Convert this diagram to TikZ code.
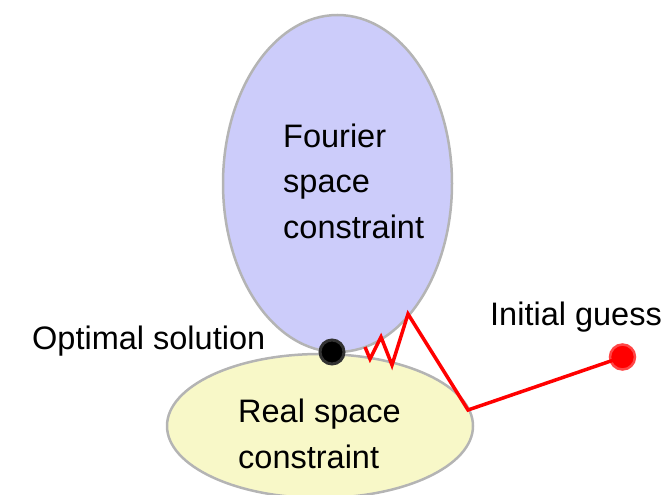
\documentclass[tikz,border=0pt]{standalone}
\usepackage{fontspec}
\setmainfont{Liberation Sans}
\usepackage{tikz}
\usetikzlibrary{shapes.geometric, positioning}

\definecolor{fourierblue}{RGB}{204,204,250}
\definecolor{realyellow}{RGB}{248,248,200}
\definecolor{rimgray}{RGB}{180,180,180}

\tikzset{
  region/.style={ellipse, draw=rimgray, line width=2.5pt, inner sep=0pt},
  label/.style={anchor=base west, inner sep=0pt, align=left,
    font=\fontsize{32.5}{45.5}\selectfont},
  path/.style={red, line width=3.5pt, line join=miter}
}

\begin{document}
\begin{tikzpicture}[x=1pt, y=-1pt]

\useasboundingbox (0,0) rectangle (661,495);

% Constraint sets
\node[region, fill=fourierblue, minimum width=229pt, minimum height=337pt]
  (fourier) at (337.5,183.5) {};
\node[region, fill=realyellow, minimum width=306pt, minimum height=144pt]
  (real) at (320,426) {};

% Set labels (base = last line)
\node[label] (fourierlbl) at (283,238) {Fourier\\space\\constraint};
\node[label] (reallbl) at (238,468) {Real space\\constraint};

% Iteration path
\node[circle, fill=red, draw={rgb,255:red,255;green,70;blue,70}, line width=2.5pt,
  minimum size=25pt, inner sep=0pt] (guess) at (622.5,357) {};
\coordinate (p1) at (468,410);
\coordinate (p2) at (408,314);
\coordinate (p3) at (392,365);
\coordinate (p4) at (381,337);
\coordinate (p5) at (370,359);
\coordinate (p6) at (365,347);
\draw[path] (guess.center) -- (p1) -- (p2) -- (p3) -- (p4) -- (p5) -- (p6);

% Solution point
\node[circle, fill=black, draw={rgb,255:red,50;green,50;blue,50}, line width=3pt,
  minimum size=24pt, inner sep=0pt] (opt) at (332,352) {};

% Point labels
\node[label] (optlbl) at (32,349) {Optimal solution};
\node[label] (guesslbl) at (490,325) {Initial guess};

\end{tikzpicture}
\end{document}
